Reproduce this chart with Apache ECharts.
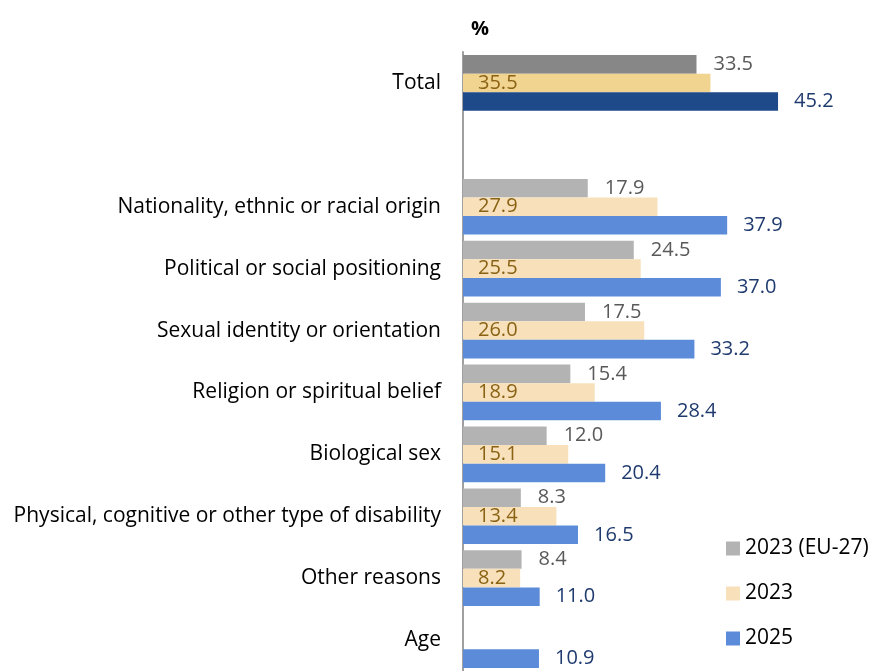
<!DOCTYPE html>
<html>
<head>
<meta charset="utf-8">
<script src="https://cdn.jsdelivr.net/npm/echarts@6/dist/echarts.min.js"></script>
<style>
  html, body { margin: 0; padding: 0; background: #ffffff; }
  #chart { width: 869px; height: 671px; }
</style>
</head>
<body>
<div id="chart"></div>
<script>
// Reasons for discrimination, share of respondents (%)
const categories = [
  'Total',
  '',
  'Nationality, ethnic or racial origin',
  'Political or social positioning',
  'Sexual identity or orientation',
  'Religion or spiritual belief',
  'Biological sex',
  'Physical, cognitive or other type of disability',
  'Other reasons',
  'Age'
];
const seriesNames = ['2023 (EU-27)', '2023', '2025'];
const valuesEU27 = [33.5, null, 17.9, 24.5, 17.5, 15.4, 12.0, 8.3, 8.4, null];
const values2023 = [35.5, null, 27.9, 25.5, 26.0, 18.9, 15.1, 13.4, 8.2, null];
const values2025 = [45.2, null, 37.9, 37.0, 33.2, 28.4, 20.4, 16.5, 11.0, 10.9];

const FONT = '"Open Sans"';

// Colours: regular bars, the darker "Total" bars, and label text
const palette = [
  { bar: '#b3b3b3', total: '#878787', label: '#595959' },
  { bar: '#f8e1ba', total: '#f2d491', label: '#8a6214' },
  { bar: '#5b8bd9', total: '#1f4a89', label: '#1f3a6e' }
];

function toData(values, colors) {
  return values.map((v, i) => {
    if (v === null) return '-';
    const item = { value: v };
    if (i === 0) item.itemStyle = { color: colors.total };
    return item;
  });
}

const labelPlacement = [
  { position: 'right', distance: 17 },
  { position: 'insideLeft', distance: 15 },
  { position: 'right', distance: 16 }
];

const allValues = [valuesEU27, values2023, values2025];

const series = allValues.map((vals, k) => ({
  name: seriesNames[k],
  type: 'bar',
  data: toData(vals, palette[k]),
  barGap: '0%',
  barCategoryGap: '10%',
  itemStyle: { color: palette[k].bar },
  label: {
    show: true,
    position: labelPlacement[k].position,
    distance: labelPlacement[k].distance,
    color: palette[k].label,
    fontFamily: FONT,
    fontSize: 20,
    formatter: p => Number(p.value).toFixed(1)
  },
  emphasis: { disabled: true },
  animation: false
}));

const chart = echarts.init(document.getElementById('chart'), null, { renderer: 'canvas' });
chart.setOption({
  animation: false,
  backgroundColor: '#ffffff',
  title: {
    text: '%',
    left: 466,
    top: 14,
    textStyle: { fontFamily: FONT, fontSize: 20, fontWeight: 'bold', color: '#000000' }
  },
  grid: { left: 463, top: 52, width: 348.5, height: 623, containLabel: false },
  xAxis: {
    type: 'value',
    min: 0,
    max: 50,
    show: false
  },
  yAxis: {
    type: 'category',
    data: categories,
    inverse: true,
    axisLine: { show: true, lineStyle: { color: '#a0a0a0', width: 2 } },
    axisTick: { show: false },
    axisLabel: { color: '#000000', fontFamily: FONT, fontSize: 21, margin: 22 }
  },
  legend: {
    orient: 'vertical',
    left: 721,
    top: 533,
    icon: 'rect',
    itemWidth: 14,
    itemHeight: 14,
    itemGap: 24,
    selectedMode: false,
    textStyle: { color: '#000000', fontFamily: FONT, fontSize: 21 },
    data: seriesNames
  },
  series: series
});
</script>
</body>
</html>
